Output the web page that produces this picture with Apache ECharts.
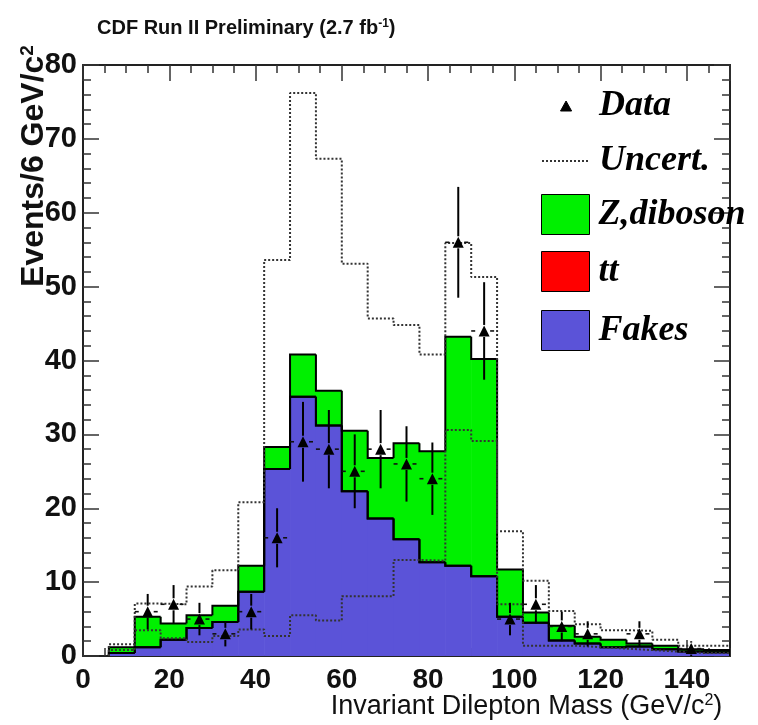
<!DOCTYPE html>
<html><head><meta charset="utf-8">
<script src="https://cdn.jsdelivr.net/npm/echarts@6/dist/echarts.min.js"></script>
<style>html,body{margin:0;padding:0;background:#fff}#c{width:758px;height:725px}</style>
</head><body><div id="c"></div>
<script>
// ---- data ----
const binLow = [6,12,18,24,30,36,42,48,54,60,66,72,78,84,90,96,102,108,114,120,126,132,138,144];
const binWidth = 6;
const fakes    = [0.4,1.2,2.2,3.8,4.6,8.7,25.3,35.1,31.2,22.3,18.6,15.8,12.7,12.2,10.8,5.3,4.5,2.1,1.7,1.2,1.3,0.9,0.6,0.5];
const ttbar    = [0,0,0,0,0,0,0,0,0,0,0,0,0,0,0,0,0,0,0,0,0,0,0,0];
const zDiboson = [0.8,4.1,2.2,1.7,2.2,3.5,3.0,5.7,4.7,8.2,8.2,13.0,15.0,31.0,29.4,6.4,1.4,2.0,0.9,1.0,0.4,0.5,0.3,0.3];
const uncertUp   = [1.6,7.1,7.0,9.4,11.6,20.8,53.6,76.2,67.3,53.1,45.7,44.8,40.8,55.9,51.3,16.9,10.2,6.1,4.3,3.5,3.4,2.2,1.4,1.4];
const uncertDown = [0.8,3.5,2.4,1.9,2.7,3.6,2.7,5.5,4.8,8.1,8.1,13.0,12.9,30.6,29.1,7.0,1.4,1.4,1.2,1.0,0.8,0.6,0.4,0.4];
const dataX   = [15,21,27,33,39,45,51,57,63,69,75,81,87,93,99,105,111,117,129,141];
const dataY   = [6,7,5,3,6,16,29,28,25,28,26,24,56,44,5,7,4,3,3,1];
const dataErr = [2.4,2.6,2.2,1.7,2.4,4.0,5.4,5.3,5.0,5.3,5.1,4.9,7.5,6.6,2.2,2.6,2.0,1.7,1.7,1.0];

// ---- build library inputs ----
function stackItems(lower, comp) {
  return binLow.map((x0, i) => {
    const b = lower[i], t = lower[i] + comp[i];
    const pt = i === 0 ? 0 : lower[i-1] + comp[i-1];
    return [x0, x0 + binWidth, b, t, pt, i === binLow.length - 1 ? 1 : 0];
  });
}
const base0 = binLow.map(() => 0);
const base1 = fakes.slice();
const base2 = fakes.map((v, i) => v + ttbar[i]);
function stepPoints(vals) {
  const pts = [[binLow[0], 0]];
  binLow.forEach((x, i) => pts.push([x, vals[i]]));
  pts.push([binLow[binLow.length-1] + binWidth, vals[vals.length-1]]);
  return pts;
}

function histRender(color) {
  return function (params, api) {
    const x0 = api.value(0), x1 = api.value(1), b = api.value(2), t = api.value(3), pt = api.value(4), last = api.value(5);
    const pB = api.coord([x0, b]);
    const pT = api.coord([x1, t]);
    const pPrev = api.coord([x0, pt]);
    const children = [];
    if (t > b) {
      children.push({type: 'rect', z2: 0,
        shape: {x: pB[0], y: pT[1], width: pT[0] - pB[0] + 0.6, height: pB[1] - pT[1]},
        style: {fill: color}});
    }
    const pts = [[pB[0], pPrev[1]], [pB[0], pT[1]], [pT[0], pT[1]]];
    if (last) pts.push([pT[0], api.coord([x1, 0])[1]]);
    children.push({type: 'polyline', z2: 10, shape: {points: pts},
      style: {stroke: '#000', lineWidth: 2, fill: null}});
    return {type: 'group', children};
  };
}

function errRender(params, api) {
  const x = api.value(0), y = api.value(1), e = api.value(2);
  const c = api.coord([x, y]);
  const top = api.coord([x, y + e])[1];
  const bot = api.coord([x, Math.max(0, y - e)])[1];
  const xl = api.coord([x - binWidth / 2, y])[0];
  const xr = api.coord([x + binWidth / 2, y])[0];
  const gap = 6;
  const children = [];
  const ls = {stroke: '#000', lineWidth: 2};
  if (c[1] - gap > top) children.push({type: 'line', shape: {x1: c[0], y1: top, x2: c[0], y2: c[1] - gap}, style: ls});
  if (bot > c[1] + gap) children.push({type: 'line', shape: {x1: c[0], y1: c[1] + gap, x2: c[0], y2: bot}, style: ls});
  const hs = {stroke: '#111', lineWidth: 1.6, lineDash: [4, 3]};
  children.push({type: 'line', shape: {x1: xl, y1: c[1], x2: c[0] - gap, y2: c[1]}, style: hs});
  children.push({type: 'line', shape: {x1: c[0] + gap, y1: c[1], x2: xr, y2: c[1]}, style: hs});
  return {type: 'group', children};
}

const AX = '#222';
const TK = {color: '#333', width: 1.5};
const legendCommon = {
  padding: 0, selectedMode: false, orient: 'vertical', left: 541, itemWidth: 48,
  itemStyle: {borderColor: '#000', borderWidth: 1},
  textStyle: {fontFamily: 'Liberation Serif', fontWeight: 'bold', fontStyle: 'italic',
              fontSize: 36, color: '#000', lineHeight: 40, padding: [0, 0, 0, 4]}
};

const option = {
  animation: false,
  backgroundColor: '#fff',
  title: {
    text: 'CDF Run II Preliminary (2.7 fb{sup|-1})',
    left: 97, top: 18, padding: 0,
    textStyle: {fontFamily: 'Liberation Sans', fontWeight: 'bold', fontSize: 20, color: '#111',
      rich: {sup: {fontFamily: 'Liberation Sans', fontWeight: 'bold', fontSize: 12, color: '#111', verticalAlign: 'top', lineHeight: 12}}}
  },
  grid: {left: 83, right: 28, top: 65, bottom: 69, containLabel: false, outerBoundsMode: 'none'},
  legend: [
    Object.assign({}, legendCommon, {left: 560, top: 86, itemHeight: 10, data: [{name: 'Data', icon: 'path://M5,0L10,9L0,9Z'}]}),
    Object.assign({}, legendCommon, {top: 141, itemHeight: 8, data: ['Uncert.'], itemStyle: {opacity: 0}}),
    Object.assign({}, legendCommon, {top: 194, itemHeight: 40, data: [{name: 'Z,diboson', icon: 'rect'}]}),
    Object.assign({}, legendCommon, {top: 251, itemHeight: 40, data: [{name: 'tt', icon: 'rect'}]}),
    Object.assign({}, legendCommon, {top: 310, itemHeight: 40, data: [{name: 'Fakes', icon: 'rect'}]})
  ],
  xAxis: [
    {type: 'value', min: 0, max: 150, interval: 20, position: 'bottom',
     axisLine: {show: true, onZero: false, lineStyle: {color: AX, width: 2}},
     axisTick: {show: true, inside: true, length: 16, lineStyle: TK},
     axisLabel: {fontFamily: 'Liberation Sans', fontWeight: 'bold', fontSize: 28, color: '#111', margin: 10, showMaxLabel: false},
     splitLine: {show: false},
     name: 'Invariant Dilepton Mass (GeV/c{sup|2})', nameLocation: 'middle', nameGap: 37, nameMoveOverlap: false,
     nameTextStyle: {fontFamily: 'Liberation Sans', fontSize: 27, color: '#111', padding: [0, 0, 0, 240],
       rich: {sup: {fontFamily: 'Liberation Sans', fontSize: 16, color: '#111', verticalAlign: 'top', lineHeight: 14}}}},
    {type: 'value', min: 0, max: 150, interval: 5, position: 'bottom',
     axisLine: {show: false, onZero: false}, axisTick: {show: true, inside: true, length: 8, lineStyle: TK},
     axisLabel: {show: false}, splitLine: {show: false}},
    {type: 'value', min: 0, max: 150, interval: 20, position: 'top',
     axisLine: {show: true, onZero: false, lineStyle: {color: AX, width: 2}},
     axisTick: {show: true, inside: true, length: 16, lineStyle: TK},
     axisLabel: {show: false}, splitLine: {show: false}},
    {type: 'value', min: 0, max: 150, interval: 5, position: 'top',
     axisLine: {show: false, onZero: false}, axisTick: {show: true, inside: true, length: 8, lineStyle: TK},
     axisLabel: {show: false}, splitLine: {show: false}}
  ],
  yAxis: [
    {type: 'value', min: 0, max: 80, interval: 10, position: 'left',
     axisLine: {show: true, onZero: false, lineStyle: {color: AX, width: 2}},
     axisTick: {show: true, inside: true, length: 16, lineStyle: TK},
     minorTick: {show: true, splitNumber: 5, length: 8, lineStyle: TK},
     axisLabel: {fontFamily: 'Liberation Sans', fontWeight: 'bold', fontSize: 29, color: '#111', margin: 6},
     splitLine: {show: false},
     name: 'Events/6 GeV/c{sup|2}', nameLocation: 'middle', nameRotate: 90, nameGap: 33, nameMoveOverlap: false,
     nameTextStyle: {fontFamily: 'Liberation Sans', fontWeight: 'bold', fontSize: 32, color: '#111', padding: [0, 0, 0, 389],
       rich: {sup: {fontFamily: 'Liberation Sans', fontWeight: 'bold', fontSize: 19, color: '#111', verticalAlign: 'top', lineHeight: 17}}}},
    {type: 'value', min: 0, max: 80, interval: 10, position: 'right',
     axisLine: {show: true, onZero: false, lineStyle: {color: AX, width: 2}},
     axisTick: {show: true, inside: true, length: 16, lineStyle: TK},
     minorTick: {show: true, splitNumber: 5, length: 8, lineStyle: TK},
     axisLabel: {show: false}, splitLine: {show: false}}
  ],
  series: [
    {name: 'Fakes', type: 'custom', renderItem: histRender('#5b53d8'), itemStyle: {color: '#5b53d8'},
     data: stackItems(base0, fakes), encode: {x: [0, 1], y: [2, 3]}, clip: true, z: 2},
    {name: 'tt', type: 'custom', renderItem: histRender('#ff0000'), itemStyle: {color: '#ff0000'},
     data: stackItems(base1, ttbar), encode: {x: [0, 1], y: [2, 3]}, clip: true, z: 2},
    {name: 'Z,diboson', type: 'custom', renderItem: histRender('#00f000'), itemStyle: {color: '#00f000'},
     data: stackItems(base2, zDiboson), encode: {x: [0, 1], y: [2, 3]}, clip: true, z: 2},
    {name: 'Uncert.', type: 'line', step: 'end', symbol: 'none', data: stepPoints(uncertUp),
     lineStyle: {color: '#333', width: 2, type: [2, 2]}, itemStyle: {color: '#333'}, z: 3, clip: true},
    {name: 'Uncert.', type: 'line', step: 'end', symbol: 'none', data: stepPoints(uncertDown),
     lineStyle: {color: '#333', width: 2, type: [2, 2]}, itemStyle: {color: '#333'}, z: 3, clip: true},
    {name: 'DataErr', type: 'custom', renderItem: errRender,
     data: dataX.map((x, i) => [x, dataY[i], dataErr[i]]), encode: {x: 0, y: 1}, z: 4},
    {name: 'Data', type: 'scatter', symbol: 'triangle', symbolSize: 11, itemStyle: {color: '#000', opacity: 1},
     data: dataX.map((x, i) => [x, dataY[i]]), z: 5}
  ]
};
const chart = echarts.init(document.getElementById('c'), null, {renderer: 'canvas'});
chart.setOption(option);
</script></body></html>
